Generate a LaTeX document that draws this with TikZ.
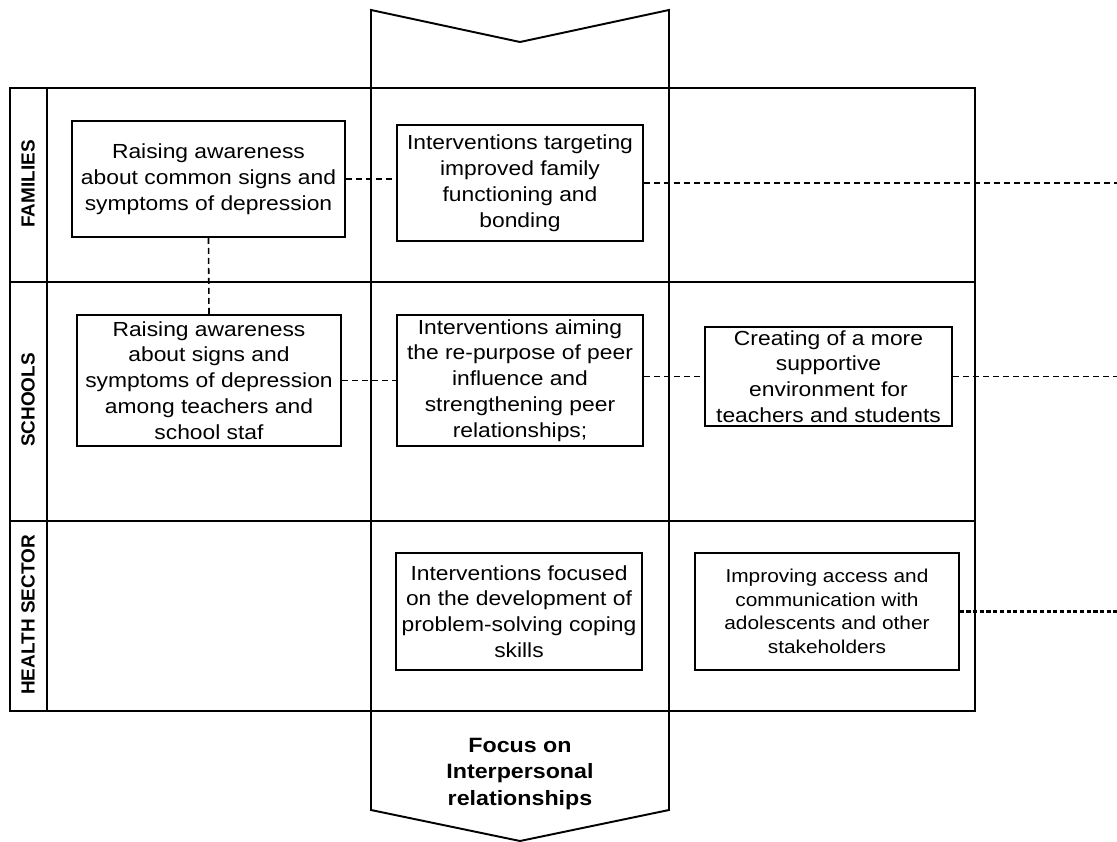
\documentclass[tikz,border=0pt]{standalone}
\usepackage{fontspec}
\setmainfont{Liberation Sans}[FakeStretch=1.12]
\newfontfamily\sidefont{Liberation Sans}
\usetikzlibrary{positioning,calc}

\begin{document}
\begin{tikzpicture}[
      x=0.02cm,y=-0.02cm,
      frame/.style={line width=1.1pt},
      box/.style={rectangle,draw,line width=0.9pt,align=center,inner sep=0pt,font=\fontsize{11.6pt}{14.7pt}\selectfont},
      smallbox/.style={box,font=\fontsize{10.6pt}{13.4pt}\selectfont},
      side/.style={rotate=90,font=\sidefont\bfseries\fontsize{10.8pt}{12pt}\selectfont},
      focus/.style={align=center,font=\bfseries\fontsize{11.8pt}{15.3pt}\selectfont},
      link/.style={line width=0.9pt,dash pattern=on 3.4pt off 2.3pt},
      denselink/.style={line width=1.4pt,dash pattern=on 2.4pt off 1.4pt}
    ]

    \useasboundingbox (0,0) rectangle (1117,842);

    \draw[frame] (10,88) rectangle (975,711);
    \draw[frame] (47,88) -- (47,711);
    \draw[frame] (10,282) -- (975,282);
    \draw[frame] (10,521) -- (975,521);
    \draw[frame] (371,10) -- (520,42) -- (669,10) -- (669,810) -- (520,841) -- (371,810) -- cycle;

    \node[side] (fam) at (28,184) {FAMILIES};
    \node[side] (sch) at (28,400) {SCHOOLS};
    \node[side] (hea) at (28,615) {HEALTH SECTOR};

    \node[box,minimum width=5.46cm,minimum height=2.32cm] (f1) at (208.5,179) {Raising awareness\\about common signs and\\symptoms of depression};
    \node[box,minimum width=4.92cm,minimum height=2.32cm] (f2) at (520,183) {Interventions targeting\\improved family\\functioning and\\bonding};

    \node[box,minimum width=5.28cm,minimum height=2.62cm] (s1) at (209,380.5) {Raising awareness\\about signs and\\symptoms of depression\\among teachers and\\school staf};
    \node[box,minimum width=4.92cm,minimum height=2.62cm] (s2) at (520,380.5) {Interventions aiming\\the re-purpose of peer\\influence and\\strengthening peer\\relationships;};
    \node[box,minimum width=4.94cm,minimum height=1.98cm] (s3) at (828.5,376.5) {Creating of a more\\supportive\\environment for\\teachers and students};

    \node[box,minimum width=4.92cm,minimum height=2.34cm] (h1) at (519,611.5) {Interventions focused\\on the development of\\problem-solving coping\\skills};
    \node[smallbox,minimum width=5.28cm,minimum height=2.34cm] (h2) at (827,611.5) {Improving access and\\communication with\\adolescents and other\\stakeholders};

    \node[focus] (fo) at (520,774) {Focus on\\Interpersonal\\relationships};

    \coordinate (fend) at (1117,183);
    \coordinate (send) at (1117,372);
    \coordinate (hend) at (1117,613);

    \draw[link] (f1.east) -- (f2.west |- f1.east);
    \draw[link] (f2.east) -- (f2.east -| fend);
    \draw[link] (f1.south) -- (s1.north);
    \draw[link] (s1.east) -- (s2.west |- s1.east);
    \draw[link] (s2.east |- s3.west) -- (s3.west);
    \draw[link] (s3.east) -- (s3.east -| send);
    \draw[denselink] (h2.east) -- (h2.east -| hend);

  \end{tikzpicture}
\end{document}
